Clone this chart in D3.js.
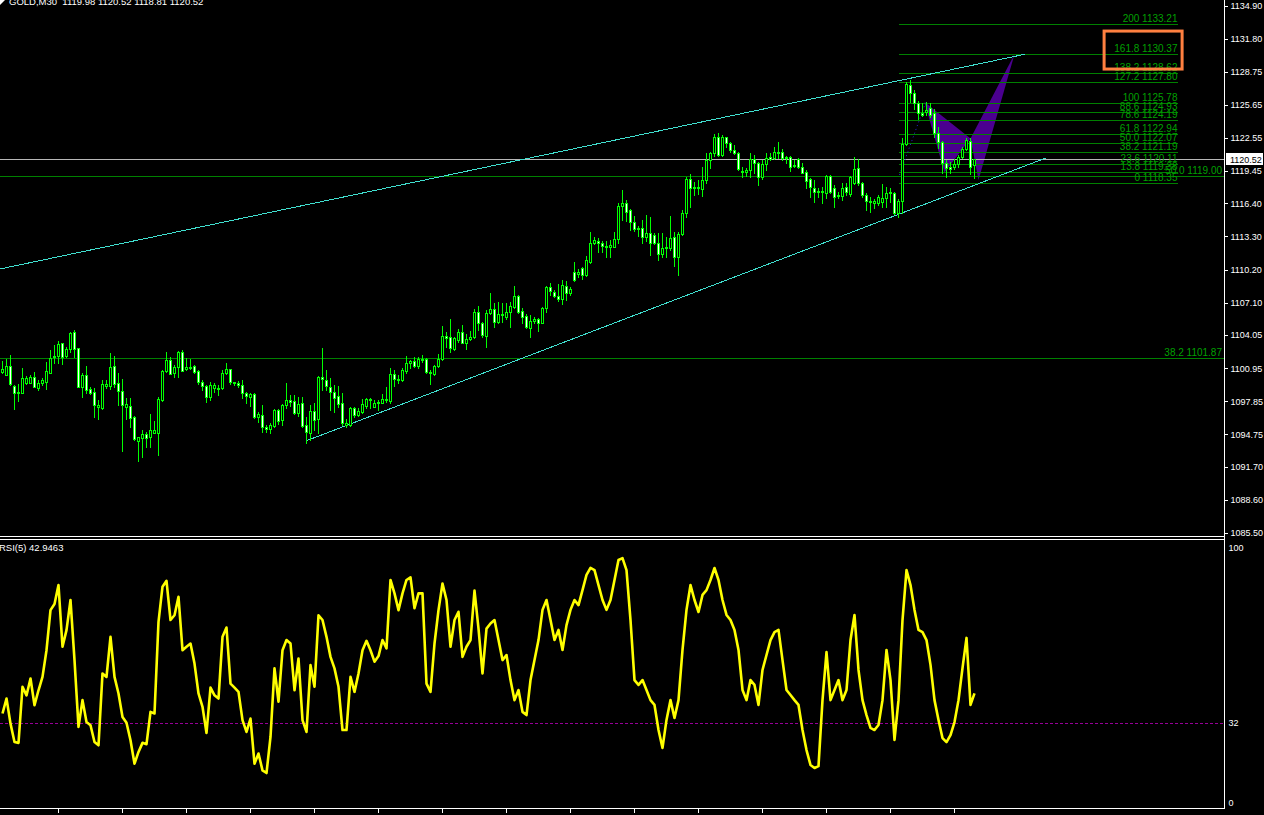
<!DOCTYPE html>
<html><head><meta charset="utf-8">
<script src="https://cdn.jsdelivr.net/npm/d3@7"></script>
<style>
html,body{margin:0;padding:0;background:#000;overflow:hidden}
svg{display:block}
text{font-family:"Liberation Sans",Arial,sans-serif}
</style>
</head><body>
<svg id="c" width="1264" height="815"></svg>
<script>
const symbolTitle = "GOLD,M30";
const open = [
1100.59,1100.34,1101.16,1099.28,1098.72,1098.59,1099.59,1099.59,1100.09,1099.12,
1099.53,1099.69,1100.53,1101.97,1102.09,1103.28,1102.12,1102.72,1104.31,1102.81,
1099.22,1100.28,1098.97,1098.72,1097.28,1097.25,1099.25,1099.28,1101.16,1099.53,
1098.78,1097.34,1097.41,1096.37,1094.16,1094.44,1094.75,1094.47,1094.91,1094.84,
1097.97,1100.72,1101.72,1100.50,1101.03,1102.44,1100.84,1101.09,1101.16,1100.69,
1099.65,1099.28,1098.28,1099.06,1099.12,1099.06,1100.47,1100.84,1099.65,1099.59,
1099.40,1098.59,1098.28,1098.50,1096.40,1096.59,1095.40,1095.22,1095.56,1097.03,
1096.09,1097.53,1097.97,1097.87,1096.78,1097.72,1095.59,1094.90,1096.94,1096.15,
1100.09,1099.84,1099.22,1098.69,1098.37,1097.65,1095.62,1095.62,1097.19,1096.56,
1096.87,1097.43,1098.06,1097.34,1097.72,1097.72,1098.06,1097.90,1100.40,1099.90,
1099.84,1100.71,1101.47,1101.62,1101.19,1101.78,1101.78,1100.62,1100.37,1101.15,
1101.78,1103.97,1103.84,1102.71,1103.59,1104.31,1103.34,1103.65,1103.84,1106.22,
1105.22,1103.97,1106.09,1106.47,1105.31,1106.03,1105.78,1106.18,1106.65,1107.72,
1106.31,1105.84,1104.68,1105.37,1105.53,1105.22,1106.56,1108.53,1108.12,1107.72,
1107.40,1108.65,1107.97,1109.99,1109.77,1110.30,1109.68,1110.93,1112.71,1112.90,
1112.65,1112.40,1112.27,1112.34,1113.02,1116.15,1116.46,1115.77,1114.68,1113.96,
1114.05,1113.27,1113.65,1113.43,1112.71,1111.65,1112.18,1112.24,1113.21,1111.34,
1113.50,1115.46,1118.65,1117.80,1117.96,1117.71,1118.59,1120.46,1121.09,1122.65,
1120.93,1122.60,1122.08,1121.40,1121.15,1119.46,1119.37,1119.52,1120.52,1120.15,
1118.84,1120.08,1120.71,1120.62,1121.09,1121.24,1120.71,1120.71,1120.00,1120.52,
1119.84,1119.37,1118.65,1117.80,1117.59,1117.49,1117.33,1118.96,1117.80,1117.08,
1117.08,1117.90,1117.27,1118.27,1119.68,1118.33,1117.18,1116.65,1116.46,1116.40,
1116.56,1116.87,1117.40,1117.40,1115.47,1116.65,1121.96,1127.49,1126.78,1125.78,
1124.90,1125.00,1125.30,1124.84,1122.96,1122.18,1120.15,1119.84,1119.77,1120.09,
1120.71,1121.46,1122.27,1119.98];
const high = [
1101.62,1101.78,1102.19,1099.34,1099.47,1100.94,1100.22,1100.31,1100.56,1099.84,
1100.06,1101.53,1102.66,1103.16,1103.50,1103.34,1102.97,1104.37,1104.53,1102.81,
1100.47,1101.16,1099.22,1099.06,1097.97,1099.84,1099.84,1102.41,1102.09,1100.47,
1099.90,1098.12,1098.12,1096.47,1094.53,1095.16,1094.94,1096.66,1096.03,1098.28,
1100.78,1102.47,1101.97,1101.25,1102.60,1102.66,1101.87,1101.81,1101.25,1100.78,
1099.84,1099.37,1099.69,1099.53,1099.37,1100.78,1101.41,1100.90,1099.69,1099.78,
1099.84,1098.75,1098.59,1098.59,1096.87,1097.50,1095.62,1095.78,1097.12,1097.09,
1097.59,1099.59,1098.44,1098.44,1098.28,1098.22,1096.40,1097.50,1097.65,1100.22,
1102.84,1100.78,1100.00,1099.37,1099.28,1098.59,1096.15,1097.34,1097.34,1097.19,
1098.03,1098.12,1098.12,1097.97,1097.97,1098.53,1099.22,1100.93,1100.78,1100.31,
1100.93,1102.09,1101.72,1102.03,1102.03,1102.18,1101.87,1100.78,1101.25,1102.28,
1104.90,1104.37,1105.53,1103.84,1104.59,1104.97,1104.15,1104.47,1106.47,1106.78,
1105.31,1106.40,1108.03,1107.09,1107.18,1107.03,1107.03,1107.18,1108.65,1107.81,
1106.56,1106.03,1105.93,1105.78,1105.62,1106.65,1108.65,1108.90,1108.28,1108.84,
1109.22,1109.15,1108.60,1110.93,1110.21,1110.46,1111.50,1113.71,1113.21,1113.12,
1112.90,1112.90,1112.96,1113.74,1116.40,1117.65,1116.71,1115.84,1115.20,1114.27,
1114.84,1115.30,1115.15,1113.65,1113.59,1113.59,1113.27,1115.21,1113.74,1113.74,
1115.77,1118.90,1119.15,1118.43,1118.59,1119.77,1121.15,1121.24,1122.90,1122.95,
1122.80,1122.65,1122.18,1121.87,1121.24,1119.84,1119.68,1121.15,1120.93,1120.30,
1120.46,1121.09,1121.09,1121.65,1122.18,1121.46,1120.84,1120.84,1120.46,1120.62,
1120.21,1119.52,1118.74,1118.59,1117.80,1117.96,1119.05,1119.05,1118.12,1117.49,
1118.27,1118.27,1119.00,1120.77,1120.52,1118.43,1117.40,1116.96,1116.77,1117.18,
1118.21,1117.96,1117.81,1117.45,1116.78,1122.50,1127.80,1127.96,1127.03,1126.03,
1125.78,1125.93,1125.78,1125.21,1123.59,1122.25,1120.46,1120.30,1120.52,1120.93,
1121.71,1122.49,1122.49,1120.52];
const low = [
1100.47,1100.28,1099.37,1097.12,1097.90,1098.59,1099.47,1099.53,1099.16,1098.91,
1099.37,1099.00,1100.53,1101.41,1101.41,1101.34,1101.97,1102.47,1101.97,1099.16,
1098.28,1098.66,1098.53,1096.41,1096.16,1097.09,1099.06,1098.97,1099.22,1097.50,
1093.22,1096.16,1095.47,1094.22,1092.28,1092.66,1093.59,1093.59,1094.84,1092.81,
1097.90,1100.62,1100.41,1100.09,1100.09,1100.65,1100.80,1100.84,1100.47,1099.47,
1098.91,1097.81,1097.97,1098.75,1098.44,1098.97,1100.37,1099.47,1099.37,1099.22,
1098.19,1097.72,1097.40,1096.25,1095.94,1095.00,1095.00,1094.90,1095.47,1095.72,
1095.62,1097.19,1097.40,1096.65,1096.47,1095.40,1093.90,1094.22,1095.16,1094.90,
1098.90,1098.90,1097.03,1096.87,1097.28,1095.62,1095.40,1095.53,1096.34,1096.47,
1096.78,1097.19,1097.19,1097.28,1097.03,1097.65,1097.81,1097.72,1099.28,1099.59,
1099.78,1100.53,1100.93,1101.09,1100.93,1101.56,1100.46,1099.47,1100.31,1101.03,
1101.72,1102.97,1102.50,1102.65,1103.43,1103.28,1102.72,1103.60,1103.75,1104.53,
1103.90,1102.97,1106.03,1104.84,1105.22,1105.31,1105.53,1104.84,1106.56,1106.15,
1105.22,1104.68,1103.90,1105.15,1104.47,1105.15,1106.25,1107.81,1107.59,1107.28,
1106.97,1107.34,1107.80,1109.15,1109.52,1109.27,1109.60,1110.84,1112.59,1111.87,
1111.87,1111.40,1111.40,1112.27,1112.65,1114.84,1114.77,1113.90,1113.84,1113.34,
1112.71,1112.90,1111.55,1112.59,1111.09,1111.40,1111.40,1112.02,1110.50,1109.70,
1113.40,1115.15,1116.02,1117.18,1117.27,1117.09,1118.27,1119.68,1120.84,1120.84,
1120.80,1121.71,1121.24,1121.02,1119.52,1118.90,1118.96,1118.90,1119.27,1118.12,
1118.65,1119.52,1120.46,1120.52,1120.62,1120.46,1120.21,1119.46,1119.84,1119.68,
1119.21,1117.80,1116.96,1116.55,1116.96,1116.46,1116.86,1117.33,1116.08,1116.86,
1116.71,1117.18,1117.08,1118.21,1118.12,1117.02,1115.77,1115.62,1115.93,1116.20,
1116.09,1116.09,1116.56,1115.40,1115.15,1115.47,1121.90,1125.93,1125.21,1124.28,
1124.60,1124.68,1124.53,1122.65,1121.56,1119.27,1118.90,1119.21,1119.59,1119.84,
1120.62,1121.40,1119.15,1118.81];
const close = [
1100.84,1101.16,1099.44,1098.66,1098.59,1100.00,1100.00,1100.12,1099.22,1099.53,
1099.84,1100.66,1101.87,1102.09,1103.22,1102.03,1102.75,1104.25,1102.75,1099.22,
1100.28,1098.91,1098.66,1097.47,1097.50,1099.44,1099.47,1101.06,1099.50,1098.78,
1097.47,1097.59,1096.31,1094.28,1094.47,1094.75,1094.44,1095.16,1095.16,1098.03,
1100.69,1101.72,1100.44,1101.03,1102.47,1100.72,1101.09,1100.94,1100.62,1099.69,
1099.31,1098.28,1099.34,1099.37,1098.97,1100.47,1100.87,1099.62,1099.53,1099.37,
1098.59,1098.34,1098.50,1096.40,1096.65,1095.44,1095.22,1095.62,1097.03,1096.03,
1097.47,1097.97,1097.81,1096.78,1097.59,1095.56,1094.94,1096.94,1096.06,1100.09,
1099.90,1099.28,1098.69,1098.19,1097.59,1095.78,1095.84,1097.19,1096.56,1096.97,
1097.59,1098.06,1097.97,1097.72,1097.81,1098.06,1097.97,1100.40,1099.90,1099.84,
1100.78,1101.47,1101.62,1101.19,1101.78,1101.72,1100.62,1100.53,1101.15,1101.78,
1103.97,1103.75,1102.81,1103.75,1104.31,1103.34,1103.68,1103.84,1106.22,1105.22,
1104.06,1106.09,1106.47,1105.31,1106.03,1105.93,1106.18,1106.78,1107.72,1106.25,
1105.78,1104.84,1105.37,1105.53,1105.22,1106.56,1108.53,1108.22,1107.72,1107.40,
1108.75,1107.97,1108.34,1109.21,1109.96,1109.68,1111.09,1112.71,1112.96,1112.65,
1112.40,1112.27,1112.49,1113.02,1116.15,1116.46,1115.62,1114.68,1113.96,1114.05,
1113.27,1113.65,1112.71,1112.65,1111.65,1112.18,1112.34,1113.12,1111.34,1113.50,
1115.46,1118.65,1117.80,1117.96,1117.80,1118.59,1120.46,1121.09,1122.65,1120.93,
1122.60,1122.08,1121.40,1121.09,1119.59,1119.37,1119.52,1120.52,1120.21,1118.84,
1120.08,1120.62,1120.52,1121.24,1121.24,1120.62,1120.65,1119.84,1119.90,1119.84,
1119.27,1118.52,1117.90,1117.49,1117.49,1117.59,1118.96,1117.49,1117.02,1117.18,
1117.80,1117.49,1118.90,1119.59,1118.33,1117.18,1116.65,1116.55,1116.65,1116.96,
1116.87,1117.40,1117.49,1115.47,1116.65,1121.96,1127.59,1126.78,1125.78,1124.90,
1124.68,1125.15,1124.68,1122.96,1122.18,1120.15,1119.68,1119.59,1120.09,1120.71,
1121.46,1122.34,1119.84,1120.52];
const rsi = [
35.4,41.0,31.6,24.7,24.4,45.4,42.2,48.5,38.5,44.1,
49.1,59.1,74.1,76.4,83.5,60.4,66.6,77.9,55.4,30.4,
40.4,32.2,31.0,24.7,23.5,50.4,49.1,64.1,49.1,42.9,
34.1,31.9,25.4,16.6,21.0,24.4,23.9,36.0,35.4,69.7,
82.9,85.1,70.4,72.2,79.1,59.1,60.4,61.6,54.1,42.9,
37.9,28.1,45.1,42.2,41.0,64.1,67.6,46.6,45.1,43.5,
32.9,28.5,33.5,16.6,20.4,14.1,13.1,26.6,52.3,39.8,
59.1,62.9,61.6,44.1,56.0,32.9,28.5,53.5,45.4,72.2,
70.4,64.1,56.6,52.3,45.4,29.2,29.2,49.1,43.5,50.4,
59.1,62.6,59.1,54.8,56.9,62.9,59.8,85.4,80.4,74.1,
80.4,85.4,86.4,74.8,80.4,80.4,46.6,43.5,61.6,74.1,
84.1,77.9,60.4,70.4,73.5,56.6,60.4,62.9,81.4,67.2,
50.4,67.2,69.1,70.4,62.9,55.4,57.3,47.9,40.4,44.2,
36.0,34.8,47.9,55.4,62.9,74.2,77.9,70.4,62.9,66.7,
59.2,68.5,74.2,77.9,76.0,81.6,87.3,89.9,89.1,83.5,
77.9,74.2,77.9,85.4,92.9,93.6,89.1,70.4,47.9,46.1,
47.9,44.2,40.4,38.6,29.2,22.5,33.0,40.4,33.7,40.4,
59.2,74.2,83.5,77.9,73.4,79.8,81.6,85.4,89.9,85.4,
77.9,72.3,70.4,66.7,59.2,44.2,40.4,47.9,46.1,38.6,
51.7,57.3,62.9,65.9,66.7,55.4,44.2,42.3,40.4,38.6,
29.2,21.7,16.1,15.0,15.7,40.4,58.4,40.4,44.2,47.9,
40.4,44.2,62.9,72.3,51.7,40.4,34.8,30.0,29.2,31.1,
40.4,59.2,47.9,25.5,40.4,70.4,89.1,83.5,74.2,66.7,
65.9,62.9,53.6,40.4,33.0,26.2,24.7,27.3,32.2,40.4,
52.4,63.7,38.6,42.9463];

const priceTicks = [1134.90,1131.80,1128.75,1125.65,1122.55,1119.45,1116.40,1113.30,1110.20,1107.10,1104.05,1100.95,1097.85,1094.75,1091.70,1088.60,1085.50];
const rsiTicks = [100, 32, 0];
const rsiLevel = 32;
const timeTickBars = [14,30,46,62,78,94,110,126,142,158,174,190,206,222,238];
const fibLabels = ["0","13.8","23.6","38.2","50.0","61.8","78.6","88.6","100","127.2","138.2","161.8","200"];
const fibPrices = [1118.35,1119.38,1120.11,1121.19,1122.07,1122.94,1124.19,1124.93,1125.78,1127.80,1128.62,1130.37,1133.21];
const fibBars = [224, 293.75];
const longFibLabels = ["38.2","50.0"];
const longFibPrices = [1101.87,1119.00];
const bidPrice = 1120.52;
const upperTrend = [[-0.625,1110.25],[255.5,1130.37]];
const lowerTrend = [[76,1094.15],[261,1120.68]];
const patternXAB = [[230.5,1125.9],[235.5,1119.3],[242,1122.49]];
const patternBCD = [[242,1122.49],[244,1118.6],[253,1130.37]];
const zigzag = [[224.25,1119.06],[230.75,1125.81]];
const highlightBox = [[275.4,1132.55],[294.9,1128.99]];

const svg = d3.select("#c");
const N = close.length;
const AX = 1224.5;
const FONT = "Liberation Sans, Arial, sans-serif";
const x = d3.scaleLinear().domain([0, N - 1]).range([2.5, 974.5]);
const y = d3.scaleLinear().domain([1085.50, 1134.90]).range([533, 6]);
const ry = d3.scaleLinear().domain([0, 100]).range([808, 541]);
const py = p => Math.round(y(p)) + 0.5;

svg.append("rect").attr("width", 1264).attr("height", 815).attr("fill", "#000");

// harmonic pattern triangles
const pl = d3.line().x(d => x(d[0])).y(d => y(d[1]));
[patternXAB, patternBCD].forEach(t => {
  svg.append("path").attr("d", pl(t) + "Z").attr("fill", "#4b0090").attr("stroke", "none");
});

// long horizontal fib lines
const gl = svg.append("g").attr("shape-rendering", "crispEdges");
longFibPrices.forEach((p, k) => {
  gl.append("line").attr("x1", 0).attr("x2", AX).attr("y1", py(p)).attr("y2", py(p))
    .attr("stroke", "#008000");
  svg.append("text").attr("x", 1222).attr("y", py(p) - 2.5).attr("text-anchor", "end")
    .attr("font-size", 10).attr("fill", "#00a000").text(longFibLabels[k] + " " + p.toFixed(2));
});

// fib lines
fibPrices.forEach((p, k) => {
  gl.append("line").attr("x1", x(fibBars[0])).attr("x2", x(fibBars[1]))
    .attr("y1", py(p)).attr("y2", py(p)).attr("stroke", "#008000");
  svg.append("text").attr("x", x(fibBars[1])).attr("y", py(p) - 2.5).attr("text-anchor", "end")
    .attr("font-size", 10).attr("fill", "#00a000").text(fibLabels[k] + " " + p.toFixed(2));
});

// bid line
gl.append("line").attr("x1", 0).attr("x2", AX).attr("y1", py(bidPrice)).attr("y2", py(bidPrice))
  .attr("stroke", "#b8b8b8");

// trendlines
[upperTrend, lowerTrend].forEach(t => {
  svg.append("path").attr("d", pl(t)).attr("stroke", "#40e0d0").attr("stroke-width", 1)
    .attr("fill", "none").attr("shape-rendering", "crispEdges");
});

// zigzag dotted
svg.append("path").attr("d", pl(zigzag)).attr("stroke", "#2a2ad8").attr("stroke-width", 1)
  .attr("stroke-dasharray", "1,3").attr("fill", "none");

// candles
const bars = d3.range(N).map(i => ({i, o: open[i], h: high[i], l: low[i], c: close[i]}));
const gc = svg.append("g").attr("shape-rendering", "crispEdges");
bars.forEach(d => {
  const cx = x(d.i);
  gc.append("line").attr("x1", cx).attr("x2", cx)
    .attr("y1", Math.round(y(d.h))).attr("y2", Math.round(y(d.l)) + 1).attr("stroke", "#00ff00");
  const top = Math.round(y(Math.max(d.o, d.c)));
  const bot = Math.round(y(Math.min(d.o, d.c)));
  const hgt = Math.max(1, bot - top + 1);
  gc.append("rect").attr("x", cx - 1.5).attr("y", top).attr("width", 3).attr("height", hgt).attr("fill", "#00ff00");
  if (hgt > 2) {
    gc.append("rect").attr("x", cx - 0.5).attr("y", top + 1).attr("width", 1).attr("height", hgt - 2)
      .attr("fill", d.c >= d.o ? "#000" : "#fff");
  }
});

// highlight box
svg.append("rect")
  .attr("x", x(highlightBox[0][0])).attr("y", y(highlightBox[0][1]))
  .attr("width", x(highlightBox[1][0]) - x(highlightBox[0][0]))
  .attr("height", y(highlightBox[1][1]) - y(highlightBox[0][1]))
  .attr("fill", "none").attr("stroke", "#ff8040").attr("stroke-width", 3);

// RSI panel
svg.append("line").attr("x1", 0).attr("x2", AX).attr("y1", Math.round(ry(rsiLevel)) + 0.5).attr("y2", Math.round(ry(rsiLevel)) + 0.5)
  .attr("stroke", "#960096").attr("stroke-dasharray", "3,2").attr("shape-rendering", "crispEdges");
svg.append("path").datum(rsi)
  .attr("d", d3.line().x((d, i) => x(i)).y(d => ry(d)))
  .attr("fill", "none").attr("stroke", "#ffff00").attr("stroke-width", 2.6).attr("stroke-linejoin", "round");

// frame
const gf = svg.append("g").attr("shape-rendering", "crispEdges").attr("stroke", "#fff");
gf.append("line").attr("x1", AX).attr("x2", AX).attr("y1", 0).attr("y2", 809);
gf.append("line").attr("x1", 0).attr("x2", AX).attr("y1", 536.5).attr("y2", 536.5);
gf.append("line").attr("x1", 0).attr("x2", AX).attr("y1", 539.5).attr("y2", 539.5);
gf.append("line").attr("x1", 0).attr("x2", AX).attr("y1", 808.5).attr("y2", 808.5);
timeTickBars.forEach(b => {
  gf.append("line").attr("x1", Math.floor(x(b)) + 0.5).attr("x2", Math.floor(x(b)) + 0.5).attr("y1", 809).attr("y2", 813);
});

// price axis
const pa = svg.append("g").attr("transform", `translate(${AX},0)`)
  .call(d3.axisRight(y).tickValues(priceTicks).tickSize(3).tickPadding(3).tickFormat(d3.format(".2f")));
pa.select(".domain").remove();
pa.selectAll("line").attr("stroke", "#fff").attr("shape-rendering", "crispEdges");
pa.selectAll("text").attr("fill", "#fff").attr("font-size", 9).attr("font-family", FONT);

// RSI axis
const ra = svg.append("g").attr("transform", `translate(${AX},0)`)
  .call(d3.axisRight(ry).tickValues(rsiTicks).tickSize(0).tickPadding(4));
ra.select(".domain").remove();
ra.selectAll("text").attr("fill", "#fff").attr("font-size", 9).attr("font-family", FONT)
  .attr("dy", d => d === 100 ? "1.0em" : d === 0 ? "-0.25em" : "0.32em");

// bid box
const by = Math.round(y(bidPrice));
svg.append("rect").attr("x", 1226).attr("y", by - 6).attr("width", 37).attr("height", 12).attr("fill", "#fff");
svg.append("text").attr("x", 1230).attr("y", by + 3.5).attr("font-size", 9).attr("fill", "#000").text(bidPrice.toFixed(2));

// title
svg.append("path").attr("d", "M0,0 L5,0 L0,5 Z").attr("fill", "#fff");
svg.append("text").attr("x", 9).attr("y", 4.5).attr("font-size", 9.5).attr("fill", "#fff")
  .style("white-space", "pre")
  .text(`${symbolTitle}  ${open[N-1].toFixed(2)} ${high[N-1].toFixed(2)} ${low[N-1].toFixed(2)} ${close[N-1].toFixed(2)}`);

// RSI label
svg.append("text").attr("x", -1).attr("y", 551).attr("font-size", 9.5).attr("fill", "#fff")
  .text(`RSI(5) ${rsi[N-1].toFixed(4)}`);
</script>
</body></html>
